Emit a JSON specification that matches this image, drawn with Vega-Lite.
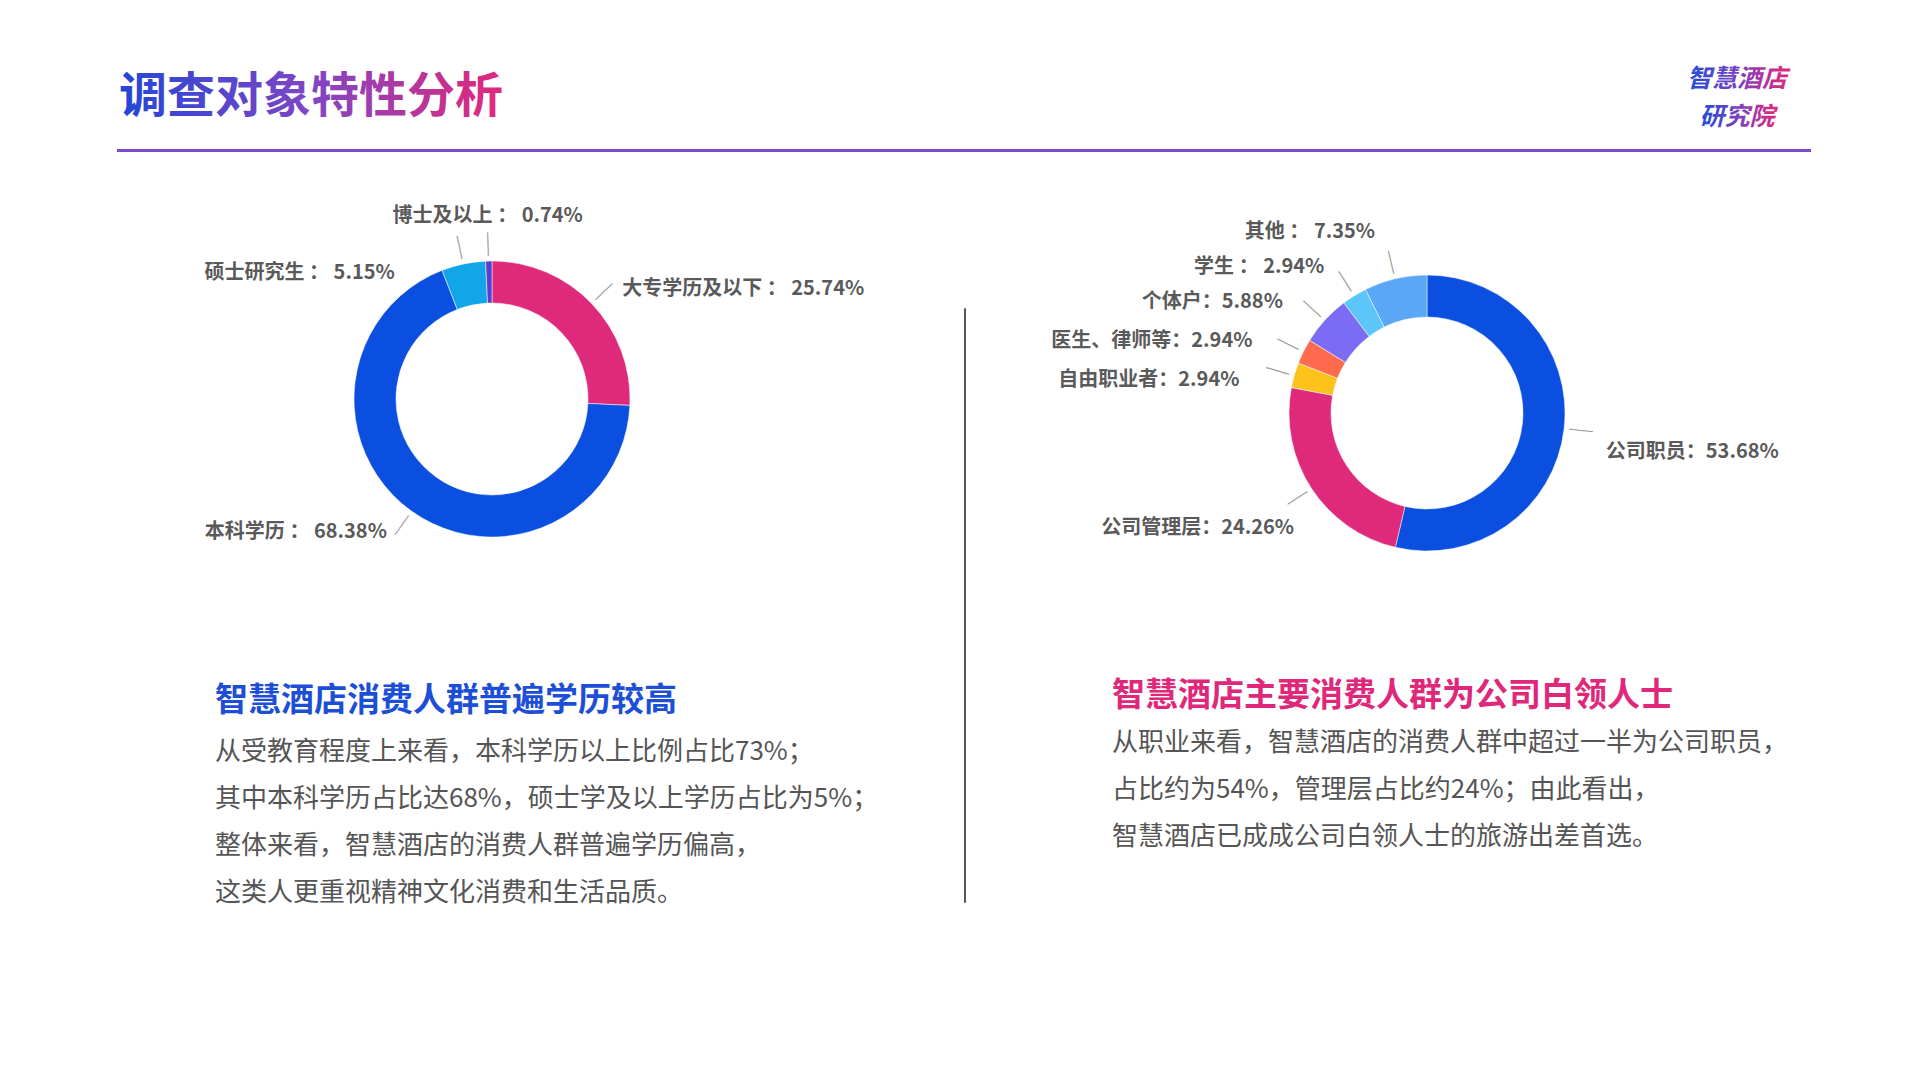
{
  "$schema": "https://vega.github.io/schema/vega-lite/v6.json",
  "background": "white",
  "padding": {"left": 117, "top": 60, "right": 5, "bottom": 5},
  "config": {"view": {"stroke": null}, "font": "Noto Sans CJK SC"},
  "datasets": {
    "edu": [
      {"idx": 1, "cat": "大专学历及以下", "value": 25.74, "label": "大专学历及以下 ： 25.74%"},
      {"idx": 2, "cat": "本科学历", "value": 68.38, "label": "本科学历 ： 68.38%"},
      {"idx": 3, "cat": "硕士研究生", "value": 5.15, "label": "硕士研究生 ： 5.15%"},
      {"idx": 4, "cat": "博士及以上", "value": 0.74, "label": "博士及以上 ： 0.74%"}
    ],
    "job": [
      {"idx": 1, "cat": "公司职员", "value": 53.68, "label": "公司职员：53.68%"},
      {"idx": 2, "cat": "公司管理层", "value": 24.26, "label": "公司管理层：24.26%"},
      {"idx": 3, "cat": "自由职业者", "value": 2.94, "label": "自由职业者：2.94%"},
      {"idx": 4, "cat": "医生、律师等", "value": 2.94, "label": "医生、律师等：2.94%"},
      {"idx": 5, "cat": "个体户", "value": 5.88, "label": "个体户：5.88%"},
      {"idx": 6, "cat": "学生", "value": 2.94, "label": "学生 ： 2.94%"},
      {"idx": 7, "cat": "其他", "value": 7.35, "label": "其他 ： 7.35%"}
    ]
  },
  "resolve": {"scale": {"color": "independent", "theta": "independent"}},
  "vconcat": [
    {
      "vconcat": [
        {
          "hconcat": [
            {
              "width": 388, "height": 76,
              "data": {"values": [{"t": "调查对象特性分析"}]},
              "mark": {"type": "text", "fontSize": 48, "fontWeight": "bold", "align": "center", "baseline": "middle",
                "fill": {"gradient": "linear", "x1": 0, "y1": 0, "x2": 1, "y2": 0,
                  "stops": [{"offset": 0, "color": "#2446d6"}, {"offset": 0.5, "color": "#8046c4"}, {"offset": 1, "color": "#e2287a"}]}},
              "encoding": {"text": {"field": "t", "type": "nominal"}}
            },
            {
              "width": 130, "height": 76,
              "data": {"values": [{"t": "智慧酒店"}, {"t": "研究院"}]},
              "mark": {"type": "text", "fontSize": 25, "fontWeight": "bold", "fontStyle": "italic", "align": "center", "baseline": "middle",
                "fill": {"gradient": "linear", "x1": 0, "y1": 0, "x2": 1, "y2": 0,
                  "stops": [{"offset": 0, "color": "#1f4fd8"}, {"offset": 0.5, "color": "#7d3fc0"}, {"offset": 1, "color": "#e2287a"}]}},
              "encoding": {
                "text": {"field": "t", "type": "nominal"},
                "y": {"field": "t", "type": "nominal", "sort": null, "axis": null, "scale": {"paddingOuter": 0.86}}
              }
            }
          ],
          "spacing": 1167
        },
        {
          "width": 1694, "height": 3,
          "view": {"fill": "#7a4cc8"},
          "data": {"values": [{"t": ""}]},
          "mark": {"type": "text"},
          "encoding": {"text": {"field": "t", "type": "nominal"}}
        }
      ],
      "spacing": 8
    },
    {
      "resolve": {"scale": {"color": "independent", "theta": "independent"}},
      "hconcat": [
        {
          "vconcat": [
            {
              "width": 750, "height": 440,
              "data": {"name": "edu"},
              "encoding": {
                "theta": {"field": "value", "type": "quantitative", "stack": true},
                "order": {"field": "idx", "type": "quantitative"}
              },
              "layer": [
                {
                  "mark": {"type": "arc", "outerRadius": 138, "innerRadius": 96, "stroke": "white", "strokeWidth": 0.5},
                  "encoding": {
                    "color": {"field": "cat", "type": "nominal", "legend": null,
                      "scale": {"domain": ["大专学历及以下", "本科学历", "硕士研究生", "博士及以上"], "range": ["#df2a7b", "#0a4fe0", "#12a6e9", "#5a3fd0"]}}
                  }
                },
                {"mark": {"type": "text", "text": "───", "font": "DejaVu Sans Mono", "fontSize": 13, "radius": 155, "align": "center", "baseline": "middle", "color": "#9a9a9a",
                  "angle": {"expr": "(datum.value_start + datum.value_end) * 1.8 - 90"}}},
                {
                  "mark": {"type": "text", "radius": 180, "dy": 14, "align": "left", "baseline": "middle", "fontSize": 20, "fontWeight": "bold", "color": "#5a5a5a"},
                  "encoding": {"text": {"condition": {"test": "datum.cat === '大专学历及以下'", "field": "label"}, "value": ""}}
                },
                {
                  "mark": {"type": "text", "radius": 180, "dy": -13, "align": "right", "baseline": "middle", "fontSize": 20, "fontWeight": "bold", "color": "#5a5a5a"},
                  "encoding": {"text": {"condition": {"test": "datum.cat === '本科学历'", "field": "label"}, "value": ""}}
                },
                {
                  "mark": {"type": "text", "radius": 180, "dx": -60, "dy": 50, "align": "right", "baseline": "middle", "fontSize": 20, "fontWeight": "bold", "color": "#5a5a5a"},
                  "encoding": {"text": {"condition": {"test": "datum.cat === '硕士研究生'", "field": "label"}, "value": ""}}
                },
                {
                  "mark": {"type": "text", "radius": 183, "align": "center", "baseline": "middle", "fontSize": 20, "fontWeight": "bold", "color": "#5a5a5a"},
                  "encoding": {"text": {"condition": {"test": "datum.cat === '博士及以上'", "field": "label"}, "value": ""}}
                }
              ]
            },
            {
              "hconcat": [
                {"width": 1, "height": 1, "data": {"values": [{"t": ""}]}, "mark": {"type": "text"}, "encoding": {"text": {"field": "t", "type": "nominal"}}},
                {
                  "width": 620, "height": 1,
                  "data": {"values": [{"t": ""}]},
                  "mark": {"type": "text"},
                  "encoding": {"text": {"field": "t", "type": "nominal"}},
                  "title": {
                    "text": "智慧酒店消费人群普遍学历较高",
                    "subtitle": ["从受教育程度上来看，本科学历以上比例占比73%；", "其中本科学历占比达68%，硕士学及以上学历占比为5%；", "整体来看，智慧酒店的消费人群普遍学历偏高，", "这类人更重视精神文化消费和生活品质。"],
                    "anchor": "start",
                    "fontSize": 33, "fontWeight": "bold", "color": "#1d4fd6",
                    "subtitleFontSize": 26, "subtitleColor": "#555555",
                    "subtitleLineHeight": 47, "subtitlePadding": 21
                  }
                }
              ],
              "spacing": 97
            }
          ],
          "spacing": 65
        },
        {
          "vconcat": [
            {"width": 1, "height": 118, "data": {"values": [{"t": ""}]}, "mark": {"type": "text"}, "encoding": {"text": {"field": "t", "type": "nominal"}}},
            {"width": 1, "height": 594, "data": {"values": [{"t": ""}]}, "view": {"stroke": "#555555", "strokeWidth": 1}, "mark": {"type": "text"}, "encoding": {"text": {"field": "t", "type": "nominal"}}}
          ],
          "spacing": 10
        },
        {
          "vconcat": [
            {"width": 1, "height": 1, "data": {"values": [{"t": ""}]}, "mark": {"type": "text"}, "encoding": {"text": {"field": "t", "type": "nominal"}}},
            {
              "vconcat": [
                {
                  "width": 754, "height": 440,
                  "data": {"name": "job"},
                  "encoding": {
                    "theta": {"field": "value", "type": "quantitative", "stack": true},
                    "order": {"field": "idx", "type": "quantitative"}
                  },
                  "layer": [
                    {
                      "mark": {"type": "arc", "outerRadius": 138, "innerRadius": 96, "stroke": "white", "strokeWidth": 0.5},
                      "encoding": {
                        "color": {"field": "cat", "type": "nominal", "legend": null,
                          "scale": {"domain": ["公司职员", "公司管理层", "自由职业者", "医生、律师等", "个体户", "学生", "其他"],
                            "range": ["#0a4fe0", "#df2a7b", "#fdc21c", "#ff6b4c", "#7b6cf3", "#5cc6fa", "#5aa7f6"]}}
                      }
                    },
                    {"mark": {"type": "text", "text": "───", "font": "DejaVu Sans Mono", "fontSize": 13, "radius": 155, "align": "center", "baseline": "middle", "color": "#9a9a9a",
                      "angle": {"expr": "(datum.value_start + datum.value_end) * 1.8 - 90"}}},
                    {
                      "mark": {"type": "text", "radius": 180, "dy": 18, "align": "left", "baseline": "middle", "fontSize": 20, "fontWeight": "bold", "color": "#5a5a5a"},
                      "encoding": {"text": {"condition": {"test": "datum.cat === '公司职员'", "field": "label"}, "value": ""}}
                    },
                    {
                      "mark": {"type": "text", "radius": 180, "dx": 18, "dy": 17, "align": "right", "baseline": "middle", "fontSize": 20, "fontWeight": "bold", "color": "#5a5a5a"},
                      "encoding": {"text": {"condition": {"test": "datum.cat === '公司管理层'", "field": "label"}, "value": ""}}
                    },
                    {
                      "mark": {"type": "text", "radius": 195, "dy": 20, "align": "right", "baseline": "middle", "fontSize": 20, "fontWeight": "bold", "color": "#5a5a5a"},
                      "encoding": {"text": {"condition": {"test": "datum.cat === '自由职业者' || datum.cat === '个体户' || datum.cat === '学生'", "field": "label"}, "value": ""}}
                    },
                    {
                      "mark": {"type": "text", "radius": 195, "dy": 15, "align": "right", "baseline": "middle", "fontSize": 20, "fontWeight": "bold", "color": "#5a5a5a"},
                      "encoding": {"text": {"condition": {"test": "datum.cat === '医生、律师等'", "field": "label"}, "value": ""}}
                    },
                    {
                      "mark": {"type": "text", "radius": 192, "dx": -8, "dy": 6, "align": "right", "baseline": "middle", "fontSize": 20, "fontWeight": "bold", "color": "#5a5a5a"},
                      "encoding": {"text": {"condition": {"test": "datum.cat === '其他'", "field": "label"}, "value": ""}}
                    }
                  ]
                },
                {
                  "hconcat": [
                    {"width": 1, "height": 1, "data": {"values": [{"t": ""}]}, "mark": {"type": "text"}, "encoding": {"text": {"field": "t", "type": "nominal"}}},
                    {
                      "width": 620, "height": 1,
                      "data": {"values": [{"t": ""}]},
                      "mark": {"type": "text"},
                      "encoding": {"text": {"field": "t", "type": "nominal"}},
                      "title": {
                        "text": "智慧酒店主要消费人群为公司白领人士",
                        "subtitle": ["从职业来看，智慧酒店的消费人群中超过一半为公司职员，", "占比约为54%，管理层占比约24%；由此看出，", "智慧酒店已成成公司白领人士的旅游出差首选。"],
                        "anchor": "start",
                        "fontSize": 33, "fontWeight": "bold", "color": "#e0287a",
                        "subtitleFontSize": 26, "subtitleColor": "#555555",
                        "subtitleLineHeight": 47, "subtitlePadding": 17
                      }
                    }
                  ],
                  "spacing": 61
                }
              ],
              "spacing": 46
            }
          ],
          "spacing": 8
        }
      ],
      "spacing": 84
    }
  ],
  "spacing": 17
}
